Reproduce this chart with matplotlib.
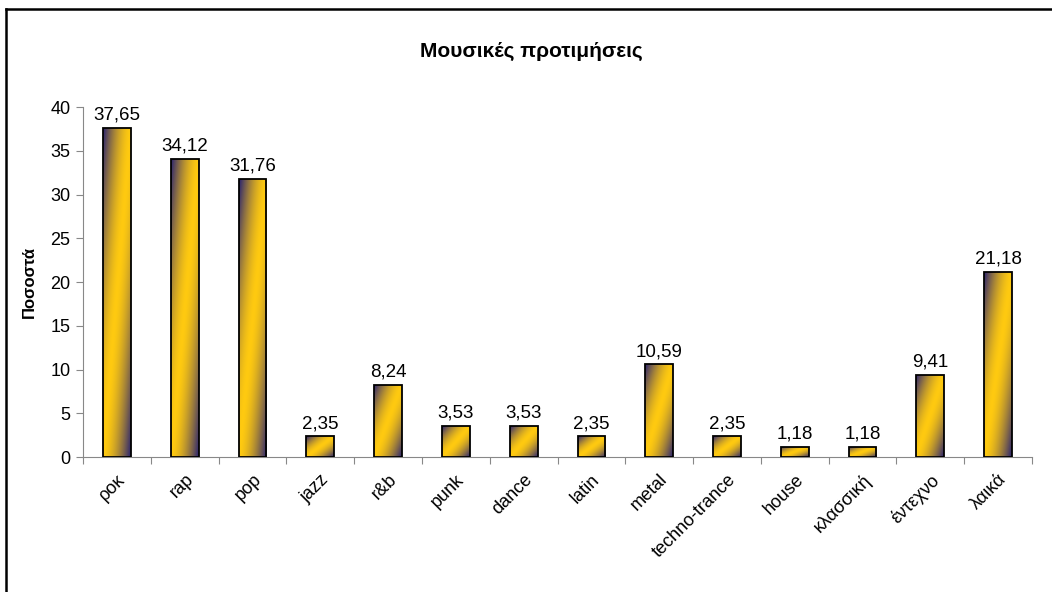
import numpy as np
import matplotlib
matplotlib.use("Agg")
import matplotlib.pyplot as plt
from matplotlib.lines import Line2D

plt.rcParams['font.family'] = ['Liberation Sans', 'DejaVu Sans']

# dane
kategorie = ["ροκ", "rap", "pop", "jazz", "r&b", "punk", "dance", "latin", "metal",
             "techno-trance", "house", "κλασσική", "έντεχνο", "λαικά"]
wartosci = [37.65, 34.12, 31.76, 2.35, 8.24, 3.53, 3.53, 2.35, 10.59,
            2.35, 1.18, 1.18, 9.41, 21.18]
tytul = "Μουσικές προτιμήσεις"
os_y = "Ποσοστά"

granat = np.array([0x26, 0x20, 0x72]) / 255
zolty = np.array([0xff, 0xca, 0x10]) / 255

fig = plt.figure(figsize=(10.52, 5.92), dpi=100)
ax = fig.add_axes([0.079, 0.228, 0.902, 0.591])

x = np.arange(len(kategorie))
slupki = ax.bar(x, wartosci, width=0.41, facecolor='none', edgecolor='black',
                linewidth=1.3, zorder=3)

# gradient ukosny: granat w rogach, zolty w srodku
n = 200
u = np.linspace(0, 1, n)[None, :]
v = np.linspace(0, 1, n)[:, None]
t = (u + v) / 2
s = np.abs(2 * t - 1) ** 1.6
grad = zolty[None, None, :] * (1 - s[..., None]) + granat[None, None, :] * s[..., None]

for b in slupki:
    x0 = b.get_x()
    x1 = x0 + b.get_width()
    h = b.get_height()
    im = ax.imshow(grad, extent=(x0, x1, 0, h), origin='upper', aspect='auto',
                   zorder=2, interpolation='bilinear')
    im.set_clip_path(b)

for xi, w in zip(x, wartosci):
    ax.text(xi, w + 0.5, f"{w:.2f}".replace(".", ","), ha='center', va='bottom',
            fontsize=13.5)

ax.set_xlim(-0.5, len(kategorie) - 0.5)
ax.set_ylim(0, 40)
ax.set_yticks(range(0, 41, 5))
ax.tick_params(axis='y', labelsize=13, length=5, color='#888888', pad=4)

ax.set_xticks(np.arange(len(kategorie) + 1) - 0.5, minor=False)
ax.set_xticklabels([])
ax.set_xticks(x, minor=True)
ax.set_xticklabels(kategorie, minor=True, rotation=45, ha='right',
                   rotation_mode='anchor', fontsize=13)
ax.tick_params(axis='x', which='major', length=5, color='#888888')
ax.tick_params(axis='x', which='minor', length=0, pad=10)

for k in ['top', 'right']:
    ax.spines[k].set_visible(False)
for k in ['left', 'bottom']:
    ax.spines[k].set_color('#888888')

ax.set_ylabel(os_y, fontsize=12, fontweight='bold', labelpad=10)
fig.text(0.505, 0.913, tytul, ha='center', va='center', fontsize=15,
         fontweight='bold')

# ramka
fig.add_artist(Line2D([6 / 1052, 1], [1 - 9 / 592, 1 - 9 / 592], color='black',
                      linewidth=1.8, transform=fig.transFigure))
fig.add_artist(Line2D([6 / 1052, 6 / 1052], [0, 1 - 9 / 592], color='black',
                      linewidth=1.8, transform=fig.transFigure))

fig.savefig("out.png", dpi=100)
